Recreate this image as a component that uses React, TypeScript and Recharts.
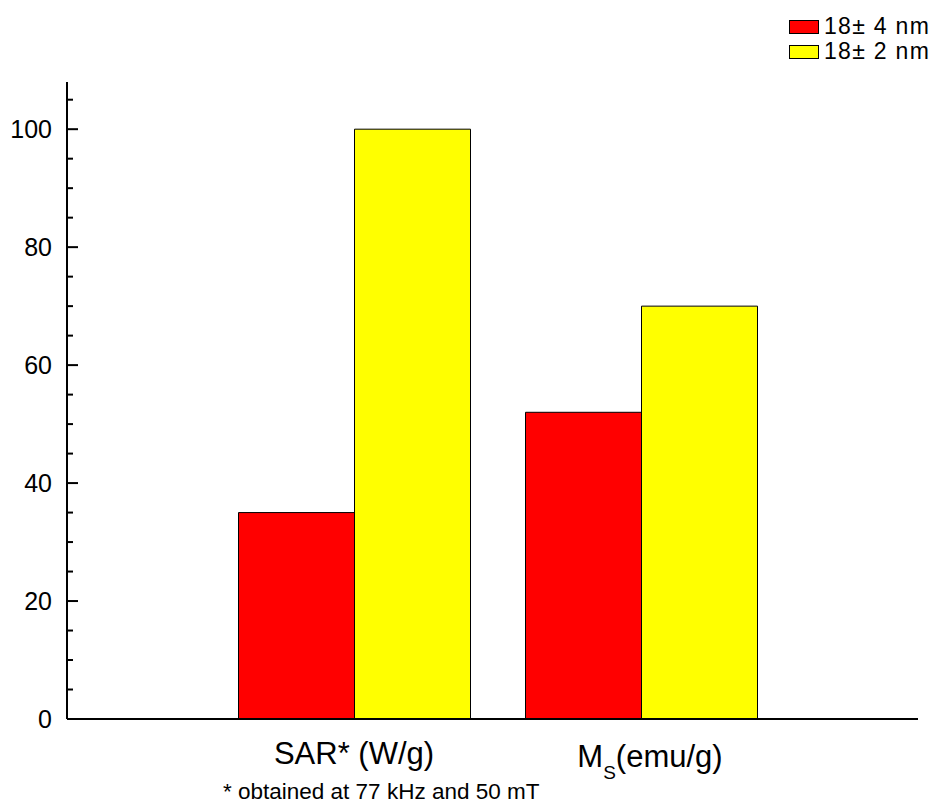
import { BarChart, Bar, XAxis, YAxis, Legend } from "recharts";

const categories = ["SAR* (W/g)", "Ms(emu/g)"];
const small = [35, 52];
const narrow = [100, 70];
const seriesNames = ["18\u00b1 4 nm", "18\u00b1 2 nm"];
const yTicks = [0, 5, 10, 15, 20, 25, 30, 35, 40, 45, 50, 55, 60, 65, 70, 75, 80, 85, 90, 95, 100, 105];
const footnote = "* obtained at 77 kHz and 50 mT";

const font = "'Liberation Sans', Arial, sans-serif";

const data = categories.map((c, i) => ({ cat: c, small: small[i], narrow: narrow[i] }));

function YTick({ x, y, payload }: any) {
  const v = payload.value as number;
  const major = v % 20 === 0;
  return (
    <g>
      <line x1={x} y1={y} x2={x + (major ? 11 : 6)} y2={y} stroke="#000" strokeWidth={2} />
      {major && (
        <text x={x - 15} y={y} textAnchor="end" dominantBaseline="central" fontSize={25} fontFamily={font} fill="#000">
          {v}
        </text>
      )}
    </g>
  );
}

function XTick({ x, y, payload }: any) {
  const v = payload.value as string;
  if (v.startsWith("Ms")) {
    return (
      <text x={x + 9} y={y + 48} textAnchor="middle" fontSize={31} fontFamily={font} fill="#000">
        M
        <tspan fontSize={19} dy={12}>S</tspan>
        <tspan dy={-12}>{v.slice(2)}</tspan>
      </text>
    );
  }
  return (
    <text x={x} y={y + 45} textAnchor="middle" fontSize={31} fontFamily={font} fill="#000">
      {v}
    </text>
  );
}

function LegendBox({ payload }: any) {
  const items = [...(payload || [])].sort(
    (a: any, b: any) => seriesNames.indexOf(a.value) - seriesNames.indexOf(b.value)
  );
  return (
    <div style={{ fontFamily: font, fontSize: 23, color: "#000" }}>
      {items.map((p: any) => (
        <div key={p.value} style={{ display: "flex", alignItems: "center", height: 25 }}>
          <span style={{ display: "inline-block", width: 28, height: 12, background: p.color, border: "1px solid #000", marginRight: 5 }} />
          <span style={{ whiteSpace: "nowrap", letterSpacing: 1.3, lineHeight: "23px" }}>{p.value}</span>
        </div>
      ))}
    </div>
  );
}

export default function App() {
  return (
    <div style={{ position: "absolute", left: 0, top: 0, background: "#fff" }}>
      <BarChart
        width={936}
        height={808}
        data={data}
        margin={{ top: 82, right: 18, bottom: 0, left: 0 }}
        barCategoryGap={28}
        barGap={0}
      >
        <XAxis
          dataKey="cat"
          height={89}
          padding={{ left: 143.5, right: 133.5 }}
          axisLine={{ stroke: "#000", strokeWidth: 2 }}
          tickLine={false}
          tickSize={0}
          tickMargin={0}
          tick={<XTick />}
          interval={0}
          label={{
            content: () => (
              <text x={223} y={799} fontSize={22.5} fontFamily={font} fill="#000">
                {footnote}
              </text>
            ),
          }}
        />
        <YAxis
          width={67}
          domain={[0, 108]}
          ticks={yTicks}
          interval={0}
          allowDataOverflow
          axisLine={{ stroke: "#000", strokeWidth: 2 }}
          tickLine={false}
          tickSize={0}
          tickMargin={0}
          tick={<YTick />}
        />
        <Legend
          layout="vertical"
          align="center"
          verticalAlign="middle"
          content={<LegendBox />}
          wrapperStyle={{ top: 14, left: 789, width: 147 }}
        />
        <Bar dataKey="small" name={seriesNames[0]} fill="#ff0000" stroke="#000" strokeWidth={1} isAnimationActive={false} />
        <Bar dataKey="narrow" name={seriesNames[1]} fill="#ffff00" stroke="#000" strokeWidth={1} isAnimationActive={false} />
      </BarChart>
    </div>
  );
}
